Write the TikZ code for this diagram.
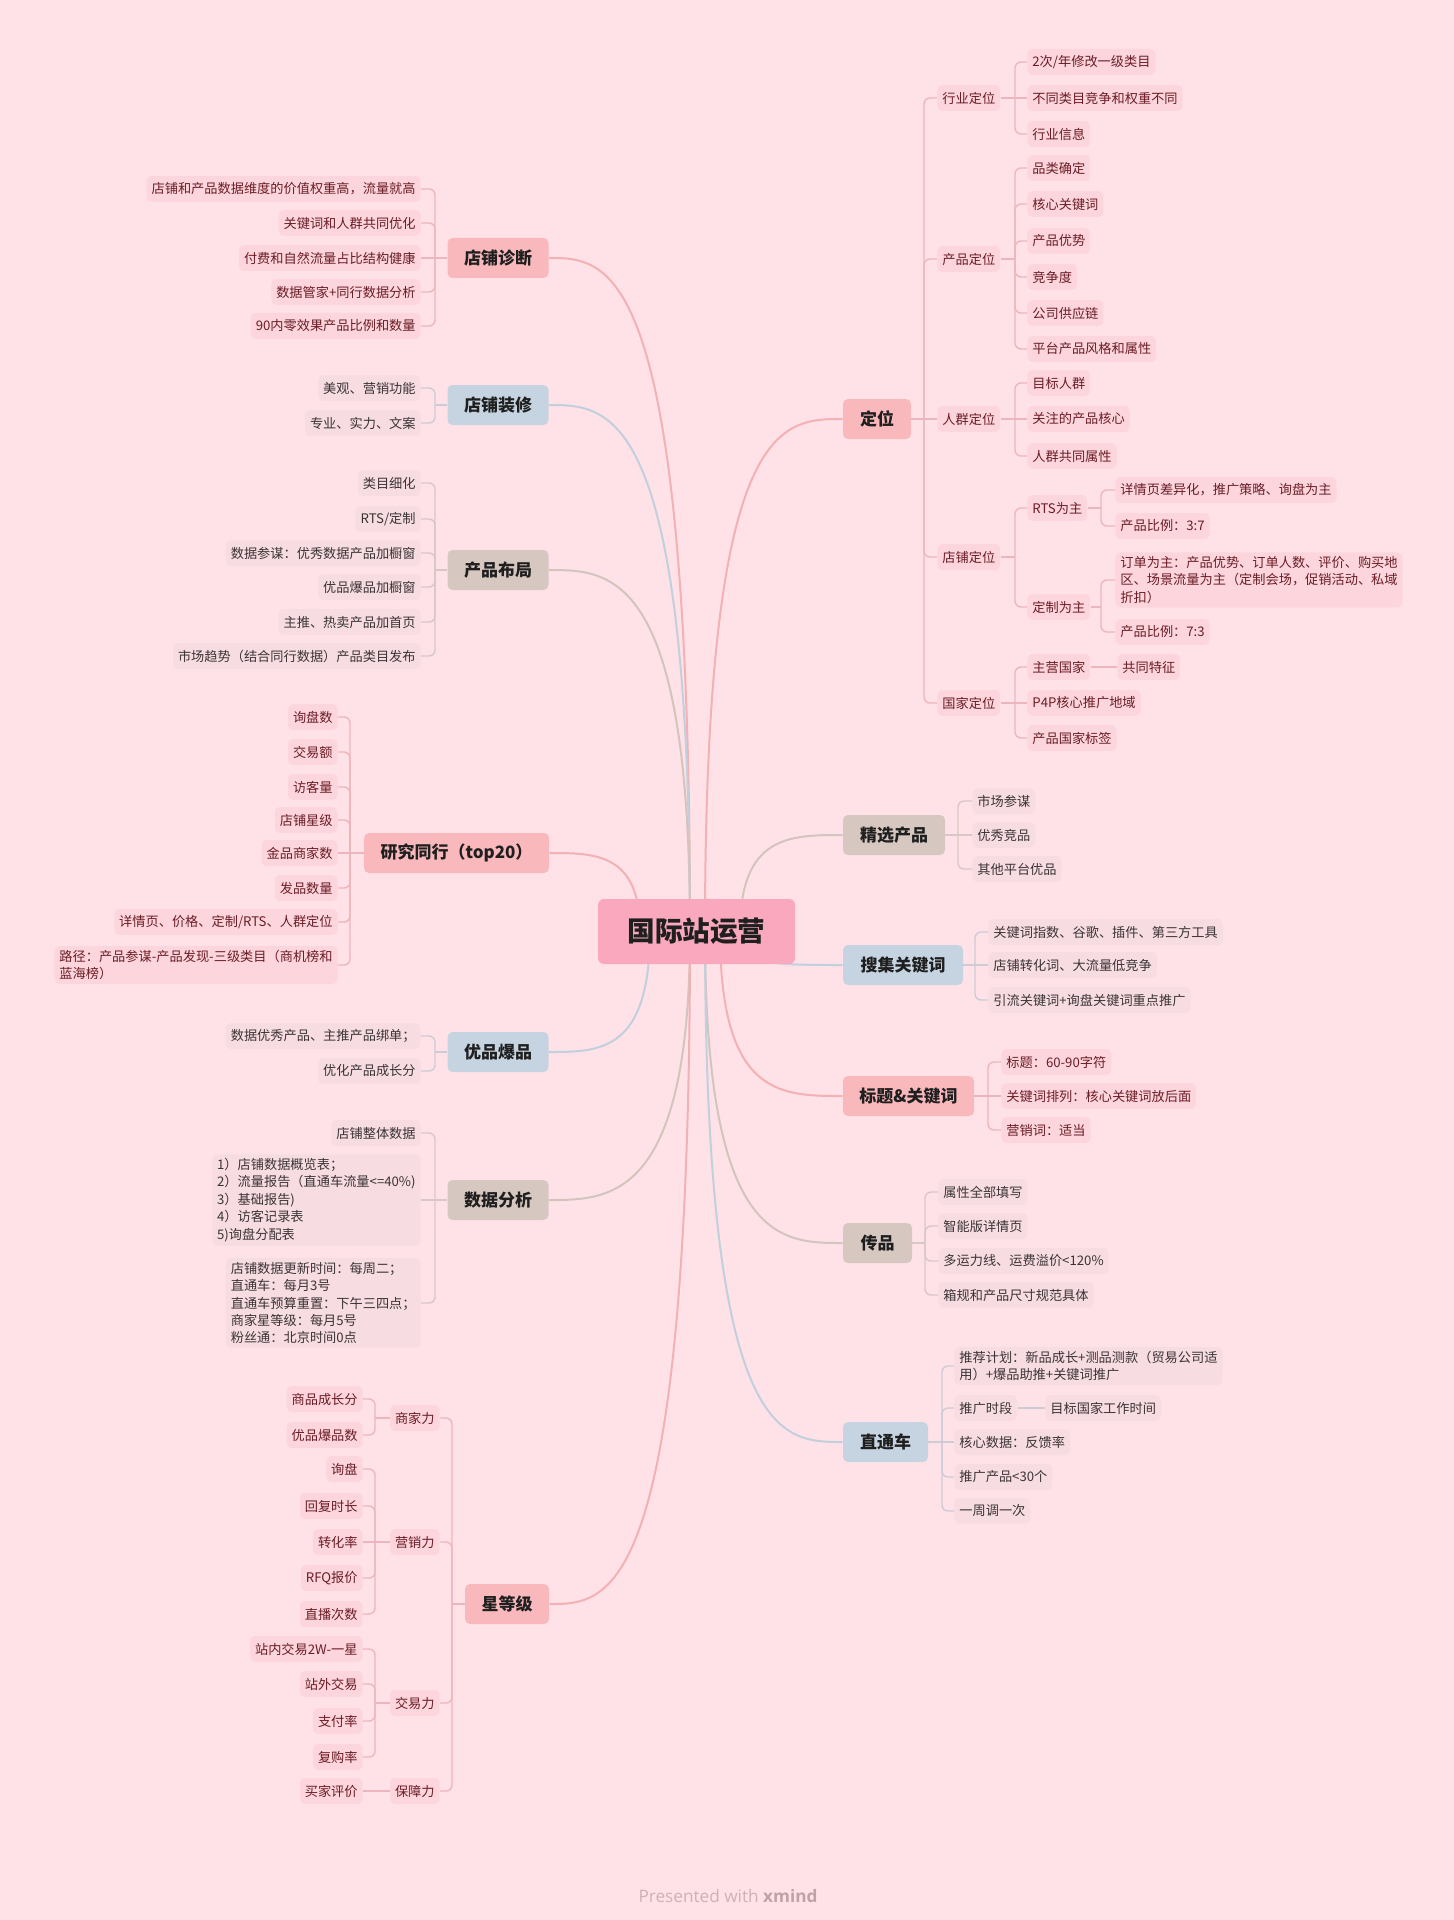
\documentclass[tikz,border=0pt]{standalone}
\usepackage{fontspec}
\setmainfont{Noto Sans CJK SC}
\newfontfamily\footfont{Open Sans}
\definecolor{bg}{HTML}{FFE2E7}
\definecolor{nodeP}{HTML}{F9B8BB}
\definecolor{nodeB}{HTML}{C6D4E1}
\definecolor{nodeT}{HTML}{D6C7C1}
\definecolor{centerC}{HTML}{F9A8BD}
\definecolor{lineP}{HTML}{F4B1B4}
\definecolor{lineB}{HTML}{C2CFDC}
\definecolor{lineT}{HTML}{D4C4BE}
\definecolor{cP}{HTML}{EDB6BC}
\definecolor{cB}{HTML}{CDCCD5}
\definecolor{cT}{HTML}{D9C7C5}
\definecolor{boxP}{HTML}{FCD6DC}
\definecolor{boxG}{HTML}{F7DCE1}
\definecolor{txtP}{HTML}{6B1C26}
\definecolor{txtG}{HTML}{3A3436}
\definecolor{footC}{HTML}{CDB1B7}
\definecolor{footD}{HTML}{BFA1A8}
\tikzset{
  mainnode/.style={rounded corners=2.5pt, minimum height=20pt, inner xsep=0pt, inner ysep=0pt,
    font=\fontsize{8.5}{10}\selectfont\bfseries, text=black!88},
  mP/.style={mainnode, fill=nodeP},
  mB/.style={mainnode, fill=nodeB},
  mT/.style={mainnode, fill=nodeT},
  leaf/.style={rounded corners=2.5pt, inner xsep=2.5pt, inner ysep=2pt, minimum height=13pt,
    font=\fontsize{6.6}{8.7}\selectfont, align=left},
  lP/.style={leaf, fill=boxP, text=txtP},
  lG/.style={leaf, fill=boxG, text=txtG},
  crvP/.style={draw=lineP, line width=1pt},
  crvB/.style={draw=lineB, line width=1pt},
  crvT/.style={draw=lineT, line width=1pt},
  conP/.style={draw=cP, line width=0.7pt, rounded corners=3pt},
  conB/.style={draw=cB, line width=0.7pt, rounded corners=3pt},
  conT/.style={draw=cT, line width=0.7pt, rounded corners=3pt},
}
% #1 parent, #2 prefix, #3 box edge x, #4 bus x, #5 parent y, #6 node style, #7 conn style, #8 list
\newcommand\kidsL[8]{%
  \foreach \tx/\ty [count=\ni] in {#8}{%
    \node[#6,anchor=east] (#2\ni) at (#3,\ty) {\tx};
    \ifdim\ty pt=#5pt \draw[#7] (#2\ni.east) -- (#4,\ty);
    \else \draw[#7] (#2\ni.east) -- (#4,\ty) -- (#4,#5); \fi
  }%
  \draw[#7] (#1.west) -- (#4,#5);
}
\newcommand\kidsR[8]{%
  \foreach \tx/\ty [count=\ni] in {#8}{%
    \node[#6,anchor=west] (#2\ni) at (#3,\ty) {\tx};
    \ifdim\ty pt=#5pt \draw[#7] (#2\ni.west) -- (#4,\ty);
    \else \draw[#7] (#2\ni.west) -- (#4,\ty) -- (#4,#5); \fi
  }%
  \draw[#7] (#1.east) -- (#4,#5);
}
\begin{document}
\begin{tikzpicture}[x=0.5pt,y=-0.5pt]
\useasboundingbox (0,0) rectangle (1454,1920);
\fill[bg] (0,0) rectangle (1454,1920);

% main topic nodes
\node[mP, minimum width=50.5pt] (d1) at (498,258) {店铺诊断};
\node[mB, minimum width=50.5pt] (d2) at (498,405) {店铺装修};
\node[mT, minimum width=50.5pt] (d3) at (498,570) {产品布局};
\node[mP, minimum width=92.5pt] (d4) at (456.5,853) {研究同行（top20）};
\node[mB, minimum width=50.5pt] (d5) at (498,1052) {优品爆品};
\node[mT, minimum width=50.5pt] (d6) at (498,1200) {数据分析};
\node[mP, minimum width=42pt] (d7) at (507,1604) {星等级};
\node[mP, minimum width=34pt] (r1) at (877,419) {定位};
\node[mT, minimum width=51pt] (r2) at (894,835) {精选产品};
\node[mB, minimum width=60pt] (r3) at (903,965) {搜集关键词};
\node[mP, minimum width=65.5pt] (r4) at (908.5,1096) {标题\&关键词};
\node[mT, minimum width=34.5pt] (r5) at (877.5,1243) {传品};
\node[mB, minimum width=42.5pt] (r6) at (885.5,1442) {直通车};

% curves from center
\draw[crvP] (690,931) .. controls (690,258) and (610,258) .. (d1.east);
\draw[crvB] (690,931) .. controls (690,405) and (610,405) .. (d2.east);
\draw[crvT] (690,931) .. controls (690,570) and (610,570) .. (d3.east);
\draw[crvP] (640,931) .. controls (640,853) and (595,853) .. (d4.east);
\draw[crvB] (650,931) .. controls (650,1052) and (600,1052) .. (d5.east);
\draw[crvT] (690,931) .. controls (690,1200) and (610,1200) .. (d6.east);
\draw[crvP] (690,931) .. controls (690,1604) and (610,1604) .. (d7.east);
\draw[crvP] (705,931) .. controls (705,419) and (780,419) .. (r1.west);
\draw[crvT] (740,931) .. controls (740,835) and (790,835) .. (r2.west);
\draw[crvB] (720,931) .. controls (720,965) and (780,965) .. (r3.west);
\draw[crvP] (720,931) .. controls (720,1096) and (780,1096) .. (r4.west);
\draw[crvT] (705,931) .. controls (705,1243) and (780,1243) .. (r5.west);
\draw[crvB] (705,931) .. controls (705,1442) and (780,1442) .. (r6.west);

% central topic
\node[fill=centerC, rounded corners=3pt, minimum width=98.5pt, minimum height=32.5pt, inner sep=0pt,
  font=\fontsize{13.8}{16}\selectfont\bfseries, text=black!88] (c) at (696.5,931.5) {国际站运营};

% left branches
\kidsL{d1}{da}{421}{435}{258}{lP}{conP}{店铺和产品数据维度的价值权重高，流量就高/189, 关键词和人群共同优化/223, 付费和自然流量占比结构健康/258, 数据管家+同行数据分析/292, 90内零效果产品比例和数量/326}
\kidsL{d2}{db}{421}{435}{405}{lG}{conB}{美观、营销功能/388, 专业、实力、文案/423}
\kidsL{d3}{dc}{421}{435}{570}{lG}{conT}{类目细化/483, {RTS/定制}/519, 数据参谋：优秀数据产品加橱窗/553, 优品爆品加橱窗/587, 主推、热卖产品加首页/622, 市场趋势（结合同行数据）产品类目发布/656}
\kidsL{d4}{dd}{338}{350}{853}{lP}{conP}{询盘数/717, 交易额/752, 访客量/787, 店铺星级/820, 金品商家数/853, 发品数量/888, {详情页、价格、定制/RTS、人群定位}/922, {路径：产品参谋-产品发现-三级类目（商机榜和\\蓝海榜）}/965}
\kidsL{d5}{de}{421}{435}{1052}{lG}{conB}{数据优秀产品、主推产品绑单；/1036, 优化产品成长分/1071}
\kidsL{d6}{df}{421}{435}{1200}{lG}{conT}{店铺整体数据/1133, {1）店铺数据概览表；\\2）流量报告（直通车流量<=40\%)\\3）基础报告)\\4）访客记录表\\5)询盘分配表}/1200, {店铺数据更新时间：每周二；\\直通车：每月3号\\直通车预算重置：下午三四点；\\商家星等级：每月5号\\粉丝通：北京时间0点}/1303}
\kidsL{d7}{sl}{440}{452}{1604}{lP}{conP}{商家力/1418, 营销力/1542, 交易力/1703, 保障力/1791}
\kidsL{sl1}{sa}{363}{375}{1418}{lP}{conP}{商品成长分/1399, 优品爆品数/1435}
\kidsL{sl2}{sb}{363}{375}{1542}{lP}{conP}{询盘/1469, 回复时长/1506, 转化率/1542, RFQ报价/1578, 直播次数/1614}
\kidsL{sl3}{sc}{363}{375}{1703}{lP}{conP}{站内交易2W-一星/1649, 站外交易/1684, 支付率/1721, 复购率/1757}
\kidsL{sl4}{sd}{363}{375}{1791}{lP}{conP}{买家评价/1791}

% right branches
\kidsR{r1}{dl}{937}{924}{419}{lP}{conP}{行业定位/98, 产品定位/259, 人群定位/419, 店铺定位/557, 国家定位/703}
\kidsR{dl1}{hy}{1027}{1015}{98}{lP}{conP}{{2次/年修改一级类目}/62, 不同类目竞争和权重不同/98, 行业信息/134}
\kidsR{dl2}{cp}{1027}{1015}{259}{lP}{conP}{品类确定/168, 核心关键词/204, 产品优势/241, 竞争度/277, 公司供应链/313, 平台产品风格和属性/349}
\kidsR{dl3}{rq}{1027}{1015}{419}{lP}{conP}{目标人群/383, 关注的产品核心/419, 人群共同属性/456}
\kidsR{dl4}{dp}{1027}{1015}{557}{lP}{conP}{RTS为主/508, 定制为主/607}
\kidsR{dp1}{rts}{1115}{1101}{508}{lP}{conP}{详情页差异化，推广策略、询盘为主/490, 产品比例：3:7/526}
\kidsR{dp2}{dz}{1115}{1101}{607}{lP}{conP}{{订单为主：产品优势、订单人数、评价、购买地\\区、场景流量为主（定制会场，促销活动、私域\\折扣）}/580, 产品比例：7:3/632}
\kidsR{dl5}{gj}{1027}{1015}{703}{lP}{conP}{主营国家/667, P4P核心推广地域/703, 产品国家标签/738}
\node[lP, anchor=west] (gt) at (1117,667) {共同特征};
\draw[conP] (gj1.east) -- (gt.west);

\kidsR{r2}{ra}{972}{958}{835}{lG}{conT}{市场参谋/801, 优秀竞品/835, 其他平台优品/869}
\kidsR{r3}{rb}{988}{975}{965}{lG}{conB}{关键词指数、谷歌、插件、第三方工具/932, 店铺转化词、大流量低竞争/965, 引流关键词+询盘关键词重点推广/1000}
\kidsR{r4}{rc}{1001}{988}{1096}{lP}{conP}{标题：60-90字符/1062, 关键词排列：核心关键词放后面/1096, 营销词：适当/1130}
\kidsR{r5}{rd}{938}{925}{1243}{lG}{conT}{属性全部填写/1192, 智能版详情页/1226, 多运力线、运费溢价<120\%/1261, 箱规和产品尺寸规范具体/1295}
\kidsR{r6}{re}{954}{942}{1442}{lG}{conB}{{推荐计划：新品成长+测品测款（贸易公司适\\用）+爆品助推+关键词推广}/1366, 推广时段/1408, 核心数据：反馈率/1442, 推广产品<30个/1477, 一周调一次/1511}
\node[lG, anchor=west] (tg) at (1045,1408) {目标国家工作时间};
\draw[conB] (re2.east) -- (tg.west);

% footer
\node[font=\footfont\fontsize{8.6}{10}\selectfont, text=footC] (footer) at (728,1896) {Presented with \textcolor{footD}{\bfseries xmind}};
\end{tikzpicture}
\end{document}
